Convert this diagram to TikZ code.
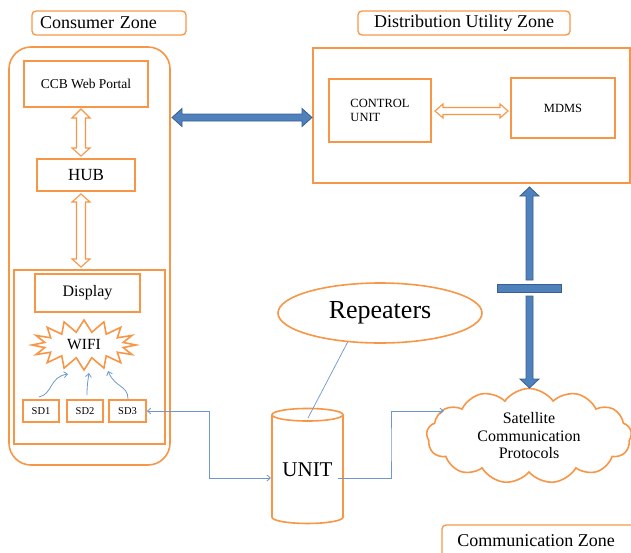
\documentclass[tikz,border=0pt]{standalone}
\usepackage{fontspec}
\setmainfont{Liberation Serif}
\usetikzlibrary{shapes.geometric,shapes.symbols,arrows.meta,calc}
\definecolor{orng}{HTML}{F79646}
\definecolor{bfill}{HTML}{4F81BD}
\definecolor{bedge}{HTML}{3A5F8F}
\definecolor{thinb}{HTML}{6E97CC}
\tikzset{
  box/.style={draw=orng, line width=1.6pt, inner sep=0pt},
  zonelabel/.style={draw=orng, line width=1.3pt, rounded corners=4pt, inner sep=0pt, font=\fontsize{18}{20}\selectfont},
  hollow/.style={draw=orng, line width=1.1pt, fill=white},
  block/.style={fill=bfill, draw=bedge, line width=0.8pt},
  conn/.style={draw=thinb, line width=0.8pt, arrows={-Straight Barb[length=3.5pt,width=6pt]}},
  conn2/.style={draw=thinb, line width=0.8pt, arrows={Straight Barb[length=3.5pt,width=6pt]-Straight Barb[length=3.5pt,width=6pt]}},
  plain/.style={draw=thinb, line width=0.7pt}
}
\begin{document}
\begin{tikzpicture}[x=1pt,y=-1pt]
\useasboundingbox (0,0) rectangle (631,552);
% zone labels
\node[zonelabel, minimum width=154pt, minimum height=24pt, text width=138pt, align=left] (czl) at (109,23) {Consumer Zone};
\node[zonelabel, minimum width=212pt, minimum height=24pt] (dzl) at (464,23) {Distribution Utility Zone};
\draw[orng, line width=1.3pt, rounded corners=4pt] (442,560) |- (640,525);
\node[font=\fontsize{18}{20}\selectfont, inner sep=0pt] (comzl) at (536,541) {Communication Zone};
% consumer zone
\node[box, rounded corners=22pt, minimum width=161pt, minimum height=418pt] (consumer) at (89.5,256) {};
\node[box, minimum width=124pt, minimum height=46pt, font=\fontsize{13.5}{15}\selectfont] (ccb) at (86,84) {CCB Web Portal};
\node[box, minimum width=98pt, minimum height=32pt, font=\fontsize{17}{19}\selectfont] (hub) at (86,175) {HUB};
\node[box, minimum width=151pt, minimum height=174pt] (inner) at (89.5,357) {};
\node[box, minimum width=105pt, minimum height=38pt, font=\fontsize{16}{18}\selectfont] (display) at (87.5,293) {Display};
\node[draw=orng, line width=1.6pt, starburst, starburst points=16, starburst point height=12pt, random starburst=0, minimum width=104pt, minimum height=50pt, inner sep=0pt, font=\fontsize{15.5}{17}\selectfont] (wifi) at (84,345) {WIFI};
\node[box, minimum width=36pt, minimum height=22pt, font=\fontsize{10.5}{12}\selectfont] (sd1) at (41,411) {SD1};
\node[box, minimum width=36pt, minimum height=22pt, font=\fontsize{10.5}{12}\selectfont] (sd2) at (85,411) {SD2};
\node[box, minimum width=37pt, minimum height=22pt, font=\fontsize{10.5}{12}\selectfont] (sd3) at (127.5,411) {SD3};
% distribution utility zone
\node[draw=orng, line width=1.4pt, inner sep=0pt, minimum width=317pt, minimum height=135pt] (dist) at (471.5,115.5) {};
\node[box, minimum width=102pt, minimum height=63pt, align=left, font=\fontsize{12.5}{14}\selectfont] (ctrl) at (380,110.5) {CONTROL\\UNIT};
\node[box, minimum width=104pt, minimum height=60pt, font=\fontsize{12.5}{14}\selectfont] (mdms) at (563,108) {MDMS};
% communication zone
\node[draw=orng, line width=1.6pt, ellipse, minimum width=204pt, minimum height=60pt, inner sep=0pt, font=\fontsize{26}{28}\selectfont] (rep) at (380,313) {Repeaters};
\node[draw=orng, line width=1.6pt, cylinder, shape border rotate=90, aspect=0.25, minimum width=71pt, minimum height=115pt, inner sep=0pt, font=\fontsize{21}{23}\selectfont] (unit) at (307.5,469.5) {UNIT};
\node[draw=orng, line width=1.6pt, cloud, cloud puffs=13, cloud puff arc=110, aspect=2.1, minimum width=205pt, minimum height=95pt, inner sep=0pt, align=center, font=\fontsize{16}{17.5}\selectfont] (cloud) at (529,436) {Satellite\\Communication\\Protocols};
% hollow orange arrows
\draw[hollow] (81,109) -- (90,118) -- (85.5,118) -- (85.5,148) -- (90,148) -- (81,156) -- (72,148) -- (76.5,148) -- (76.5,118) -- (72,118) -- cycle;
\draw[hollow] (81,194) -- (90,202) -- (85.5,202) -- (85.5,259) -- (90,259) -- (81,267) -- (72,259) -- (76.5,259) -- (76.5,202) -- (72,202) -- cycle;
\draw[hollow] (435,111) -- (443,104) -- (443,107.5) -- (500,107.5) -- (500,104) -- (508,111) -- (500,118) -- (500,114.5) -- (443,114.5) -- (443,118) -- cycle;
% blue block arrows
\draw[block] (172,117.5) -- (182,108.5) -- (182,114) -- (302,114) -- (302,108.5) -- (312,117.5) -- (302,126.5) -- (302,121) -- (182,121) -- (182,126.5) -- cycle;
\draw[block] (529.5,187) -- (539,196) -- (533,196) -- (533,280) -- (526,280) -- (526,196) -- (520,196) -- cycle;
\draw[block] (497,284) rectangle (561,292);
\draw[block] (526,296) -- (533,296) -- (533,379) -- (539,379) -- (529.5,388) -- (520,379) -- (526,379) -- cycle;
% thin connectors
\draw[conn] (39,397) .. controls (53,394) and (49,377) .. (68,374);
\draw[conn] (87,395) .. controls (87,385) and (88,380) .. (89,373);
\draw[conn] (128,399) .. controls (128,385) and (115,388) .. (108,371);
\coordinate (ul) at (271,478);
\draw[conn2] (sd3.east) -| ($(sd3.east)!0.5!(ul)$) |- (ul);
\coordinate (ur) at (338,478);
\coordinate (cl) at (444,411);
\draw[conn] (ur) -| ($(ur)!0.5!(cl)$) |- (cl);
\coordinate (uc) at (308,418);
\draw[plain] (rep.222) -- (uc);
\end{tikzpicture}
\end{document}
